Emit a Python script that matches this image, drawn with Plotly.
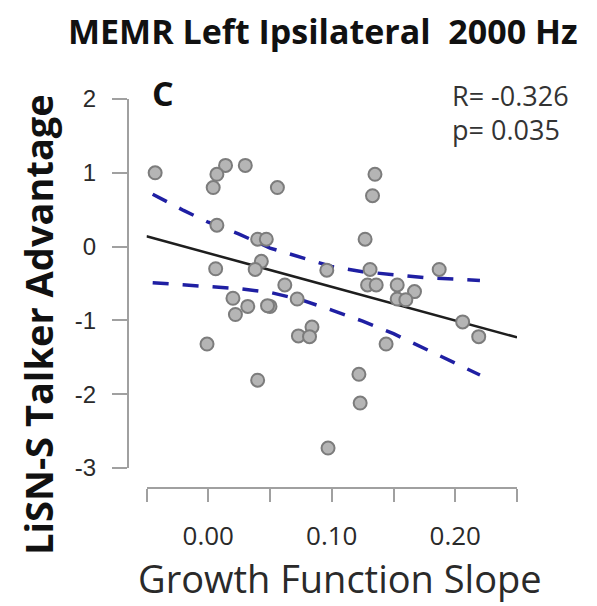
import plotly.graph_objects as go

W, H = 597, 606

# ---- data ----
slope_x = [-0.043, 0.014, 0.007, 0.030, 0.004, 0.056, 0.007, 0.040, 0.047, 0.006,
           0.043, 0.038, 0.135, 0.133, 0.127, 0.096, 0.131, 0.187, 0.062, 0.020,
           0.032, 0.050, 0.048, 0.022, -0.001, 0.040, 0.072, 0.084, 0.073, 0.082,
           0.129, 0.136, 0.153, 0.167, 0.153, 0.160, 0.206, 0.219, 0.144, 0.122,
           0.123, 0.097]
talker_adv = [1.00, 1.10, 0.98, 1.10, 0.80, 0.80, 0.29, 0.10, 0.10, -0.30,
              -0.20, -0.31, 0.98, 0.69, 0.10, -0.32, -0.31, -0.31, -0.52, -0.70,
              -0.81, -0.81, -0.80, -0.92, -1.32, -1.81, -0.71, -1.09, -1.21, -1.22,
              -0.52, -0.52, -0.52, -0.61, -0.71, -0.72, -1.02, -1.22, -1.32, -1.73,
              -2.12, -2.73]

reg_x = [-0.05, 0.25]
reg_y = [0.14, -1.23]

ci_x = [-0.045, -0.02, 0.0, 0.025, 0.05, 0.075, 0.1, 0.125, 0.15, 0.175, 0.2, 0.22]
ci_upper = [0.71, 0.49, 0.33, 0.17, -0.02, -0.15, -0.27, -0.34, -0.385, -0.42, -0.44, -0.46]
ci_lower = [-0.49, -0.52, -0.54, -0.57, -0.62, -0.72, -0.86, -1.01, -1.18, -1.38, -1.59, -1.74]

x_tick_vals = [-0.05, 0.0, 0.05, 0.10, 0.15, 0.20, 0.25]
x_tick_text = ["", "0.00", "", "0.10", "", "0.20", ""]
y_tick_vals = [2, 1, 0, -1, -2, -3]
y_tick_text = ["2", "1", "0", "-1", "-2", "-3"]

title_text = "MEMR Left Ipsilateral&nbsp;&nbsp;2000 Hz"
x_title = "Growth Function Slope"
y_title = "LiSN-S Talker Advantage"
panel_label = "C"
stats_text = ["R= -0.326", "p= 0.035"]

# ---- layout geometry (pixels in the final page) ----
OFF = 8  # the page body adds an 8px margin around the figure
x_left_px, x_right_px = 146.5, 517.0
y_top_px, y_bottom_px = 99.0, 468.0
yaxis_px = 128.0
xaxis_px = 488.0

def px(xp):
    return (xp - OFF) / W

def py(yp):
    return 1 - (yp - OFF) / H

fig = go.Figure()

fig.add_trace(go.Scatter(x=ci_x, y=ci_upper, mode="lines",
                         line=dict(color="#1f1fa3", width=3.5, dash="16px,14px"),
                         hoverinfo="skip", showlegend=False))
fig.add_trace(go.Scatter(x=ci_x, y=ci_lower, mode="lines",
                         line=dict(color="#1f1fa3", width=3.5, dash="16px,14px"),
                         hoverinfo="skip", showlegend=False))
fig.add_trace(go.Scatter(x=reg_x, y=reg_y, mode="lines",
                         line=dict(color="#1e1e1e", width=2.5),
                         hoverinfo="skip", showlegend=False))
fig.add_trace(go.Scatter(x=slope_x, y=talker_adv, mode="markers",
                         marker=dict(size=13, color="#b5b5b5",
                                     line=dict(color="#7c7c7c", width=2)),
                         cliponaxis=False, showlegend=False))

fig.update_layout(
    template="none",
    width=W, height=H,
    margin=dict(l=0, r=0, t=0, b=0, autoexpand=False),
    paper_bgcolor="white", plot_bgcolor="white",
    xaxis=dict(
        domain=[px(x_left_px), px(x_right_px)],
        range=[-0.05, 0.25], automargin=False,
        anchor="free", position=py(xaxis_px),
        tickmode="array", tickvals=x_tick_vals, ticktext=x_tick_text,
        ticks="outside", ticklen=13, tickwidth=2, tickcolor="#a0a0a0",
        showline=True, linecolor="#a0a0a0", linewidth=2,
        showgrid=False, zeroline=False,
        tickfont=dict(family="Open Sans", size=26, color="#2a2a2a"),
        ticklabelstandoff=12,
    ),
    yaxis=dict(
        domain=[py(y_bottom_px), py(y_top_px)],
        range=[-3, 2], automargin=False,
        anchor="free", position=px(yaxis_px),
        tickmode="array", tickvals=y_tick_vals, ticktext=y_tick_text,
        ticks="outside", ticklen=15, tickwidth=2, tickcolor="#a0a0a0",
        showline=True, linecolor="#a0a0a0", linewidth=2,
        showgrid=False, zeroline=False,
        tickfont=dict(family="Liberation Sans", size=24, color="#2a2a2a"),
        ticklabelstandoff=11,
    ),
    annotations=[
        dict(text="<b>" + title_text + "</b>", x=px(323), y=py(31),
             xref="paper", yref="paper", showarrow=False,
             xanchor="center", yanchor="middle",
             font=dict(family="Open Sans", size=34, color="#111111")),
        dict(text="<b>" + y_title + "</b>", x=px(38), y=py(325),
             xref="paper", yref="paper", showarrow=False, textangle=-90,
             xanchor="center", yanchor="middle",
             font=dict(family="Open Sans", size=38, color="#111111")),
        dict(text=x_title, x=px(340), y=py(578),
             xref="paper", yref="paper", showarrow=False,
             xanchor="center", yanchor="middle",
             font=dict(family="Open Sans", size=38, color="#2a2a2a")),
        dict(text="<b>" + panel_label + "</b>", x=px(150), y=py(93),
             xref="paper", yref="paper", showarrow=False,
             xanchor="left", yanchor="middle",
             font=dict(family="Open Sans", size=34, color="#111111")),
        dict(text=stats_text[0], x=px(450), y=py(95),
             xref="paper", yref="paper", showarrow=False,
             xanchor="left", yanchor="middle",
             font=dict(family="Open Sans", size=27, color="#333333")),
        dict(text=stats_text[1], x=px(450), y=py(129),
             xref="paper", yref="paper", showarrow=False,
             xanchor="left", yanchor="middle",
             font=dict(family="Open Sans", size=27, color="#333333")),
    ],
)

fig.write_html("out.html")
